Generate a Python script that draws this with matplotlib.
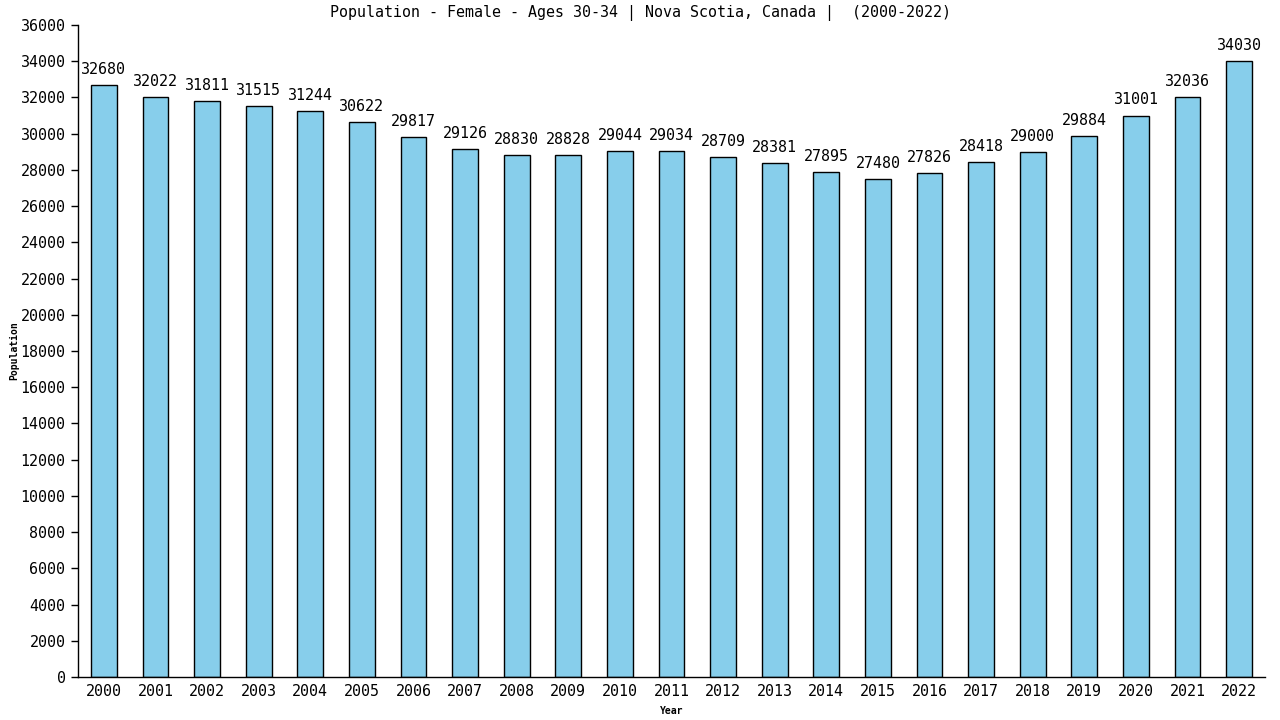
import matplotlib.pyplot as plt

years = [str(y) for y in range(2000, 2023)]
population = [32680, 32022, 31811, 31515, 31244, 30622, 29817, 29126, 28830, 28828,
              29044, 29034, 28709, 28381, 27895, 27480, 27826, 28418, 29000, 29884,
              31001, 32036, 34030]
yticks = list(range(0, 36001, 2000))

plt.rcParams['font.family'] = ['DejaVu Sans Mono']

fig = plt.figure(figsize=(12.8, 7.2), dpi=100)
ax = fig.add_axes([78 / 1280, 1 - 677 / 720, (1265 - 78) / 1280, (677 - 25) / 720])

# bars with black outline
x = list(range(len(years)))
ax.bar(x, population, width=0.5, color='#87ceeb', edgecolor='black', linewidth=1.0)

# value labels above each bar
for xi, v in zip(x, population):
    ax.text(xi, v + 450, str(v), ha='center', va='bottom', fontsize=10.8)

ax.set_xlim(-0.5, len(years) - 0.5)
ax.set_ylim(0, 36000)
ax.set_xticks(x)
ax.set_xticklabels(years, fontsize=10.8)
ax.set_yticks(yticks)
ax.set_yticklabels([str(t) for t in yticks], fontsize=10.8)
ax.tick_params(axis='x', length=0, pad=5)
ax.tick_params(axis='y', length=5, width=1, pad=4)

ax.spines['top'].set_visible(False)
ax.spines['right'].set_visible(False)
ax.spines['left'].set_linewidth(1.0)
ax.spines['bottom'].set_linewidth(1.0)

ax.set_xlabel('Year', fontsize=7, fontweight='bold', labelpad=5)
ax.set_ylabel('Population', fontsize=7, fontweight='bold', labelpad=1)
fig.text(0.5, 1 - 13 / 720, 'Population - Female - Ages 30-34 | Nova Scotia, Canada |  (2000-2022)',
         ha='center', va='center', fontsize=10.8)

plt.savefig('out.png', dpi=100)
